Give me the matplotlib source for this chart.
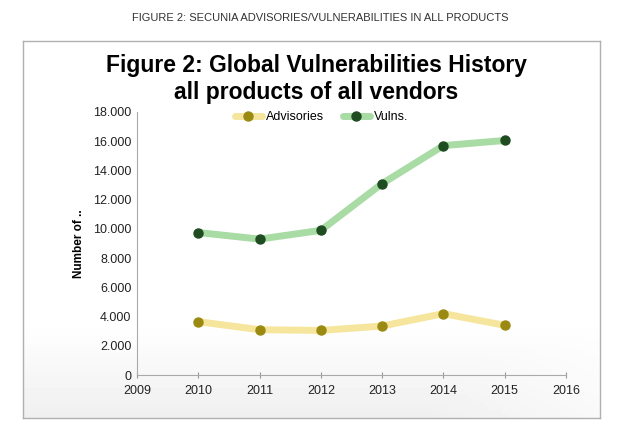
import numpy as np
import matplotlib.pyplot as plt
from matplotlib.ticker import FuncFormatter

plt.rcParams['font.family'] = ['Liberation Sans', 'DejaVu Sans']

years = [2010, 2011, 2012, 2013, 2014, 2015]
advisories = [3650, 3100, 3050, 3350, 4200, 3400]
vulns = [9750, 9300, 9900, 13100, 15700, 16050]

fig = plt.figure(figsize=(6.4, 4.37), dpi=100)
fig.patch.set_facecolor('white')

# outer chart box with a soft grey shade toward the bottom
bx0, by0, bx1, by1 = 23 / 640, 1 - 418 / 437, 600 / 640, 1 - 41 / 437
bg = fig.add_axes([bx0, by0, bx1 - bx0, by1 - by0], zorder=0)
yy = np.linspace(0, 1, 100)[:, None]
xx = np.linspace(0, 1, 100)[None, :]
grad = 1 - 0.12 * np.clip((yy - 0.7) / 0.3, 0, 1) * np.clip(1.2 - xx, 0, 1)
grad = np.maximum(grad, 1 - 0.06 * np.clip((yy - 0.75) / 0.25, 0, 1))
bg.imshow(grad, cmap='gray', vmin=0, vmax=1, aspect='auto', extent=[0, 1, 0, 1], origin='upper')
bg.set_xticks([])
bg.set_yticks([])
for s in bg.spines.values():
    s.set_color('#b0b0b0')
    s.set_linewidth(1)

fig.text(0.5, 1 - 18 / 437, 'FIGURE 2: SECUNIA ADVISORIES/VULNERABILITIES IN ALL PRODUCTS',
         ha='center', va='center', fontsize=8, color='#333333')
fig.text(316 / 640, 1 - 79 / 437, 'Figure 2: Global Vulnerabilities History\nall products of all vendors',
         ha='center', va='center', fontsize=16.5, fontweight='bold', color='black', linespacing=1.25)

ax = fig.add_axes([137 / 640, 1 - 375 / 437, 429 / 640, 263 / 437], zorder=1)
ax.patch.set_alpha(0)
ax.plot(years, advisories, color='#f6e59c', lw=5, marker='o', ms=6.5,
        mfc='#9b8a12', mec='#9b8a12', label='Advisories', solid_capstyle='round')
ax.plot(years, vulns, color='#a9dba5', lw=5, marker='o', ms=6.5,
        mfc='#1f4d21', mec='#1f4d21', label='Vulns.', solid_capstyle='round')

ax.set_xlim(2009, 2016)
ax.set_ylim(0, 18000)
ax.set_xticks(range(2009, 2017))
ax.set_yticks(range(0, 18001, 2000))
ax.yaxis.set_major_formatter(FuncFormatter(lambda v, p: '0' if v == 0 else f'{int(v):,}'.replace(',', '.')))
ax.tick_params(axis='both', labelsize=9, colors='#222222', length=3, color='#999999')
ax.tick_params(axis='y', length=0, pad=4)
ax.tick_params(axis='x', direction='inout', length=5, pad=5)
for s in ['top', 'right']:
    ax.spines[s].set_visible(False)
for s in ['left', 'bottom']:
    ax.spines[s].set_color('#aaaaaa')
ax.set_ylabel('Number of ..', fontsize=8.5, fontweight='bold', labelpad=6)

ax.legend(loc='upper center', bbox_to_anchor=(0.43, 1.045), ncol=2, frameon=False,
          fontsize=9, handlelength=2.2, columnspacing=1.5, handletextpad=0.3)

fig.savefig('out.png', dpi=100, facecolor='white')
